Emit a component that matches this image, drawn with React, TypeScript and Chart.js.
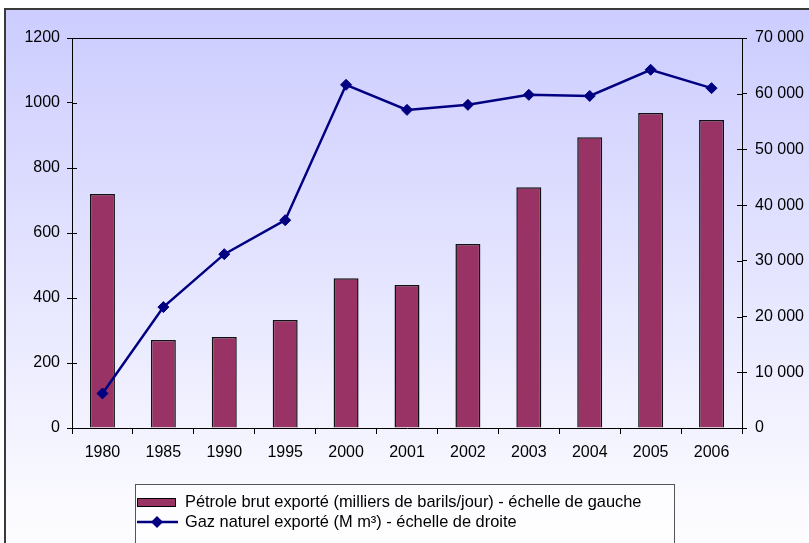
import React, { useEffect, useRef } from 'react';
import { Chart, registerables } from 'chart.js';

Chart.register(...registerables);

const years = ['1980', '1985', '1990', '1995', '2000', '2001', '2002', '2003', '2004', '2005', '2006'];
const petrole = [720, 271, 280, 332, 461, 440, 566, 741, 895, 969, 948];
const gaz = [6200, 21700, 31200, 37300, 61600, 57100, 58000, 59800, 59600, 64300, 61000];
const petroleLabel = 'Pétrole brut exporté (milliers de barils/jour) - échelle de gauche';
const gazLabel = 'Gaz naturel exporté (M m³) - échelle de droite';

const FONT = "'Liberation Sans', Arial, sans-serif";
const BAR_COLOR = '#993366';
const LINE_COLOR = '#000080';

const fmt = (v: number) => String(v).replace(/\B(?=(\d{3})+(?!\d))/g, ' ');

const backgroundPlugin = {
  id: 'bgBox',
  beforeDraw(chart: any) {
    const ctx = chart.ctx;
    ctx.save();
    const g = ctx.createLinearGradient(0, 9, 0, 560);
    g.addColorStop(0, 'rgb(204,204,255)');
    g.addColorStop(1, 'rgb(255,255,255)');
    ctx.fillStyle = g;
    ctx.fillRect(5, 9, 810, 560);
    ctx.strokeStyle = '#3a3a3a';
    ctx.lineWidth = 2;
    ctx.strokeRect(5, 9, 810, 560);
    ctx.restore();
  },
};

const framePlugin = {
  id: 'frame',
  afterDraw(chart: any) {
    const ctx = chart.ctx;
    const a = chart.chartArea;
    ctx.save();
    ctx.strokeStyle = '#000';
    ctx.lineWidth = 1;
    ctx.beginPath();
    ctx.moveTo(a.left, Math.round(a.top) + 0.5);
    ctx.lineTo(a.right, Math.round(a.top) + 0.5);
    const ys = chart.scales.y;
    ys.ticks.forEach((t: any) => {
      const p = Math.round(ys.getPixelForValue(t.value)) + 0.5;
      ctx.moveTo(a.left, p);
      ctx.lineTo(a.left + 5, p);
    });
    const y1 = chart.scales.y1;
    y1.ticks.forEach((t: any) => {
      const p = Math.round(y1.getPixelForValue(t.value)) + 0.5;
      ctx.moveTo(a.right, p);
      ctx.lineTo(a.right - 5, p);
    });
    ctx.stroke();

    // legend box
    ctx.strokeStyle = '#555';
    ctx.lineWidth = 1;
    ctx.fillStyle = 'rgba(255,255,255,0.6)';
    ctx.fillRect(135.5, 484.5, 539, 80);
    ctx.strokeRect(135.5, 484.5, 539, 80);

    const ds = chart.data.datasets;
    const barDs = ds.find((d: any) => d.type === 'bar');
    const lineDs = ds.find((d: any) => d.type === 'line');
    ctx.font = `16.4px ${FONT}`;
    ctx.textBaseline = 'middle';
    ctx.textAlign = 'left';
    ctx.fillStyle = barDs.backgroundColor;
    ctx.fillRect(137.5, 498.5, 38, 8);
    ctx.strokeStyle = '#000';
    ctx.strokeRect(137.5, 498.5, 38, 8);
    ctx.fillStyle = '#000';
    ctx.fillText(barDs.label, 185, 502);
    ctx.strokeStyle = lineDs.borderColor;
    ctx.lineWidth = 2.5;
    ctx.beginPath();
    ctx.moveTo(137, 522);
    ctx.lineTo(178, 522);
    ctx.stroke();
    ctx.fillStyle = lineDs.borderColor;
    ctx.beginPath();
    ctx.moveTo(157, 516);
    ctx.lineTo(163, 522);
    ctx.lineTo(157, 528);
    ctx.lineTo(151, 522);
    ctx.closePath();
    ctx.fill();
    ctx.fillStyle = '#000';
    ctx.fillText(lineDs.label, 185, 522);
    ctx.restore();
  },
};

export default function App() {
  const ref = useRef<HTMLCanvasElement | null>(null);
  useEffect(() => {
    if (!ref.current) return;
    const chart = new Chart(ref.current, {
      type: 'bar',
      data: {
        labels: years,
        datasets: [
          {
            type: 'bar',
            label: petroleLabel,
            data: petrole,
            yAxisID: 'y',
            backgroundColor: BAR_COLOR,
            borderColor: '#111',
            borderWidth: 1.5,
            borderSkipped: 'bottom',
            categoryPercentage: 1,
            barPercentage: 0.41,
            order: 1,
          } as any,
          {
            type: 'line',
            label: gazLabel,
            data: gaz,
            yAxisID: 'y1',
            borderColor: LINE_COLOR,
            backgroundColor: LINE_COLOR,
            borderWidth: 2.5,
            pointStyle: 'rectRot',
            pointRadius: 5.5,
            pointBorderWidth: 1,
            pointBackgroundColor: LINE_COLOR,
            pointBorderColor: LINE_COLOR,
            tension: 0,
            order: 0,
          } as any,
        ],
      },
      options: {
        responsive: false,
        animation: false,
        devicePixelRatio: 1,
        layout: { padding: { top: 38, left: 0, right: 0, bottom: 85 } },
        plugins: {
          legend: { display: false },
          tooltip: { enabled: false },
        },
        scales: {
          x: {
            offset: true,
            grid: { display: true, drawOnChartArea: false, tickLength: 6, color: '#000', offset: true },
            border: { display: true, color: '#000', width: 1 },
            ticks: { color: '#000', font: { family: FONT, size: 16 }, padding: 9, maxRotation: 0 },
            afterFit: (s: any) => { s.height = 30; },
          },
          y: {
            position: 'left',
            min: 0,
            max: 1200,
            grid: { display: true, drawOnChartArea: false, tickLength: 5, color: '#000' },
            border: { display: true, color: '#000', width: 1 },
            ticks: {
              stepSize: 200,
              color: '#000',
              font: { family: FONT, size: 16 },
              padding: 7,
              callback: (v: any) => String(v),
            },
            afterFit: (s: any) => { s.width = 72; },
          },
          y1: {
            position: 'right',
            min: 0,
            max: 70000,
            grid: { display: true, drawOnChartArea: false, tickLength: 5, color: '#000' },
            border: { display: true, color: '#000', width: 1 },
            ticks: {
              stepSize: 10000,
              color: '#000',
              font: { family: FONT, size: 16 },
              padding: 8,
              callback: (v: any) => fmt(Number(v)),
            },
            afterFit: (s: any) => { s.width = 67; },
          },
        },
      },
      plugins: [backgroundPlugin, framePlugin],
    });
    return () => chart.destroy();
  }, []);
  return (
    <div style={{ position: 'fixed', left: 0, top: 0, width: 809, height: 543 }}>
      <canvas ref={ref} width={809} height={543} style={{ display: 'block', width: 809, height: 543 }} />
    </div>
  );
}
